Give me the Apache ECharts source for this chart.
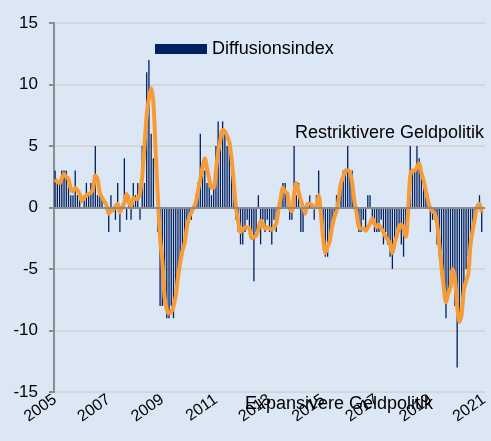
<!DOCTYPE html>
<html lang="de">
<head>
    <meta charset="UTF-8">
    <title>Diffusionsindex</title>
    <script src="https://cdn.jsdelivr.net/npm/echarts@6/dist/echarts.min.js"></script>
    <style>
        *{
            margin: 0;
            padding: 0;
        }
        body{
            background: #dce7f6;
        }
        .container{
            width: 491px;
            height: 441px;
        }
    </style>
</head>
<body>
<div class="container"></div>
<script>
    // Jahre der x-Achse, Monatskategorien werden daraus gebaut
    let years=['2005','2006','2007','2008','2009','2010','2011','2012','2013','2014','2015','2016','2017','2018','2019','2020']
    let lastLabel='2021'

    // Diffusionsindex (Balken), monatlich
    let index2005=[3,2,2,3,3,3,2,1,1,3,1,1]
    let index2006=[0,1,2,1,2,2,5,1,1,1,0,0]
    let index2007=[-2,1,0,-1,2,-2,0,4,-1,1,-1,2]
    let index2008=[1,2,-1,5,2,11,12,6,4,0,-2,-8]
    let index2009=[-8,-8,-9,-9,-8,-9,-7,-6,-4,-4,-3,-2]
    let index2010=[-1,-1,0,1,2,6,3,3,2,2,1,2]
    let index2011=[5,7,6,7,6,5,5,3,1,-1,-2,-3]
    let index2012=[-3,-2,-1,-2,-2,-6,-2,1,-3,-1,-2,-1]
    let index2013=[-2,-3,-1,-2,0,1,2,2,1,-1,-1,5]
    let index2014=[1,2,-2,-2,0,0,1,0,-1,1,3,-1]
    let index2015=[-3,-4,-4,-3,-2,-1,1,0,2,3,3,5]
    let index2016=[3,3,1,0,-2,-2,-1,-2,1,1,-1,-2]
    let index2017=[-2,-2,-1,-3,-2,-3,-4,-5,-3,-2,-2,-3]
    let index2018=[-4,-2,-1,5,3,3,5,4,3,2,1,1]
    let index2019=[-2,-1,-1,-3,-4,-5,-7,-9,-7,-6,-5,-8]
    let index2020=[-13,-9,-8,-7,-5,-4,-3,-2,-1,0,1,-2]

    // geglaetteter Verlauf (orange Linie)
    let trend2005=[2.3,2.1,2.0,2.4,2.7,2.5,2.3,1.5,1.3,1.6,1.4,1.1]
    let trend2006=[0.5,0.8,1.0,1.1,1.2,1.5,2.6,2.3,1.2,0.8,0.5,0.2]
    let trend2007=[-0.5,-0.3,-0.2,0.1,0.3,-0.4,0.0,0.4,1.1,0.4,0.1,0.8]
    let trend2008=[0.7,0.7,1.2,2.5,5.0,7.5,8.9,9.7,8.5,4.6,0.8,-2.5]
    let trend2009=[-4.3,-7.3,-8.3,-8.6,-8.5,-8.0,-7.2,-5.7,-4.5,-3.5,-2.9,-1.6]
    let trend2010=[-0.8,-0.4,0.0,0.4,1.4,2.3,3.3,4.0,3.2,2.3,1.6,1.6]
    let trend2011=[3.0,4.5,5.5,6.3,6.2,5.8,5.3,4.0,2.0,0.0,-1.2,-2.0]
    let trend2012=[-1.8,-1.6,-1.6,-1.7,-2.5,-2.4,-2.3,-1.8,-1.1,-1.3,-1.7,-1.6]
    let trend2013=[-1.7,-1.8,-1.6,-1.3,-0.2,0.8,1.6,1.3,1.1,-0.1,-0.3,1.1]
    let trend2014=[2.0,1.3,0.6,0.0,-0.5,0.3,0.3,0.2,0.0,0.1,1.0,-0.5]
    let trend2015=[-2.5,-3.7,-3.2,-2.7,-1.6,-0.8,-0.3,0.8,2.0,2.5,3.0,3.0]
    let trend2016=[2.9,2.0,0.5,-0.5,-1.6,-1.7,-1.7,-1.9,-1.6,-1.3,-0.9,-1.3]
    let trend2017=[-1.6,-1.4,-1.7,-2.0,-2.4,-2.6,-3.0,-3.7,-2.9,-2.3,-1.5,-1.4]
    let trend2018=[-1.8,-2.4,-0.5,2.6,3.0,3.0,3.3,3.6,2.8,2.2,1.3,0.5]
    let trend2019=[-0.1,-0.3,-0.5,-1.3,-3.0,-4.9,-6.5,-7.7,-7.0,-6.5,-5.0,-5.8]
    let trend2020=[-8.0,-9.3,-8.7,-6.7,-6.0,-5.4,-3.0,-1.8,-0.8,0.1,0.3,-0.4]

    let months=[]
    years.forEach(y=>{
        for (let m=1;m<=12;m++){
            months.push(y+'-'+(m<10?'0'+m:m))
        }
    })
    months.push(lastLabel+'-01')

    let indexData=[].concat(index2005,index2006,index2007,index2008,index2009,index2010,index2011,index2012,
        index2013,index2014,index2015,index2016,index2017,index2018,index2019,index2020)
    let trendData=[].concat(trend2005,trend2006,trend2007,trend2008,trend2009,trend2010,trend2011,trend2012,
        trend2013,trend2014,trend2015,trend2016,trend2017,trend2018,trend2019,trend2020)

    let font='"Liberation Sans", Arial, sans-serif'
    let container=document.querySelector('.container')
    let echart=echarts.init(container)

    let option={
        backgroundColor:'#dce7f6',
        animation:false,
        grid:{
            left:54,
            right:3,
            top:23,
            bottom:49
        },
        legend:{
            left:150,
            top:35,
            itemWidth:52,
            itemHeight:10,
            itemGap:6,
            data:[{name:'Diffusionsindex',icon:'rect'}],
            textStyle:{
                fontFamily:font,
                fontSize:18,
                color:'#000'
            }
        },
        xAxis:{
            type:'category',
            data:months,
            axisLine:{show:false},
            axisTick:{show:false},
            axisLabel:{
                interval:function (i) {
                    return i%24===0
                },
                formatter:function (v) {
                    return v.slice(0,4)
                },
                rotate:35,
                margin:6,
                fontFamily:font,
                fontSize:16,
                color:'#000'
            }
        },
        yAxis:{
            type:'value',
            min:-15,
            max:15,
            interval:5,
            axisLine:{
                show:true,
                lineStyle:{color:'#8c8c8c',width:2}
            },
            axisTick:{
                show:true,
                length:5,
                lineStyle:{color:'#8c8c8c',width:2}
            },
            axisLabel:{
                margin:16,
                fontFamily:font,
                fontSize:17,
                color:'#000'
            },
            splitLine:{
                lineStyle:{color:'#d4d6da',width:2}
            }
        },
        graphic:[
            {
                type:'text',
                left:295,
                top:124,
                style:{
                    text:'Restriktivere Geldpolitik',
                    font:'18px '+font,
                    fill:'#000'
                }
            },
            {
                type:'text',
                left:245,
                top:395,
                style:{
                    text:'Expansivere Geldpolitik',
                    font:'18px '+font,
                    fill:'#000'
                }
            }
        ],
        series:[
            {
                name:'Diffusionsindex',
                type:'bar',
                data:indexData,
                barWidth:1.3,
                itemStyle:{color:'#002060'},
                markLine:{
                    silent:true,
                    symbol:'none',
                    label:{show:false},
                    lineStyle:{color:'#8c8c8c',width:2,type:'solid'},
                    data:[{yAxis:0}]
                }
            },
            {
                name:'Trend',
                type:'line',
                data:trendData,
                smooth:0.3,
                showSymbol:false,
                lineStyle:{color:'#f79b35',width:4},
                itemStyle:{color:'#f79b35'}
            }
        ]
    }

    echart.setOption(option)
</script>
</body>
</html>
